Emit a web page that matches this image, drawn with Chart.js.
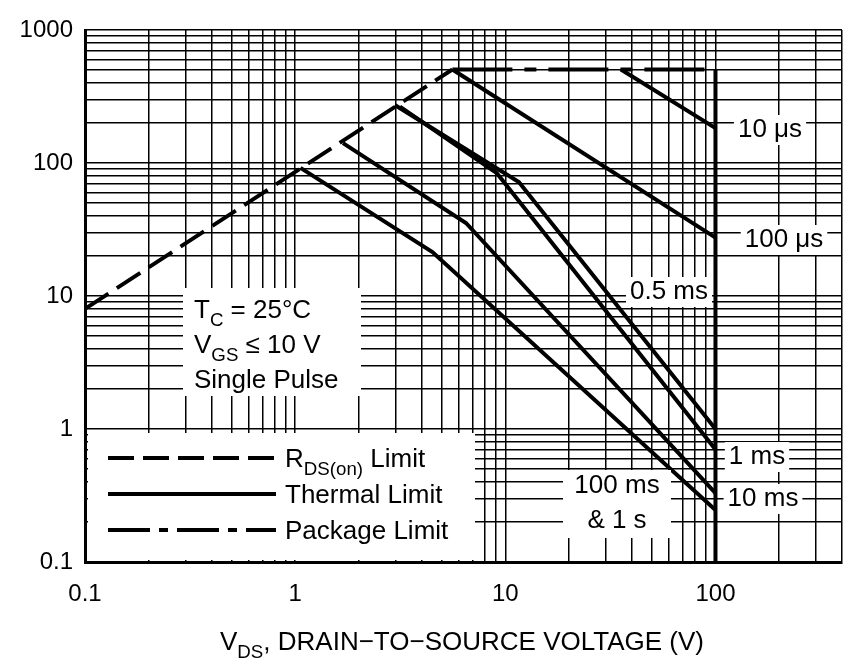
<!DOCTYPE html>
<html>
<head>
<meta charset="utf-8">
<script src="https://cdn.jsdelivr.net/npm/chart.js@4.4.0/dist/chart.umd.min.js"></script>
<style>
  body { margin: 0; background: #fff; }
  #wrap { width: 860px; height: 671px; }
</style>
</head>
<body>
<div id="wrap"><canvas id="soa"></canvas></div>
<script>
// Safe operating area data (VDS volts, ID amps)
const rdsOnLimit = [[0.1, 8], [5.6, 505]];
const packageLimit = [[5.6, 505], [100, 505]];
const drainLimit = [[100, 505], [100, 0.1]];
const curve10us = [[35.5, 505], [100, 183]];
const curve100us = [[5.6, 505], [100, 27.5]];
const curve05ms = [[2.98, 273], [11.6, 72], [100, 1.0]];
const curve1ms = [[3.15, 265], [9.1, 84], [100, 0.7]];
const curve10ms = [[1.69, 141], [6.5, 35.4], [100, 0.33]];
const curve100ms = [[1.06, 92], [4.5, 21.4], [100, 0.246]];

const xTicks = [0.1,0.2,0.3,0.4,0.5,0.6,0.7,0.8,0.9,1,2,3,4,5,6,7,8,9,10,20,30,40,50,60,70,80,90,100,200,300,400];
const yTicks = [0.1,0.2,0.3,0.4,0.5,0.6,0.7,0.8,0.9,1,2,3,4,5,6,7,8,9,10,20,30,40,50,60,70,80,90,100,200,300,400,500,600,700,800,900,1000];
const majorLabels = [0.1, 1, 10, 100, 1000];

const curveLabels = [
  { text: '10 \u03bcs', x: 770, y: 130 },
  { text: '100 \u03bcs', x: 784, y: 240 },
  { text: '0.5 ms', x: 669, y: 292 },
  { text: '1 ms', x: 757, y: 457 },
  { text: '10 ms', x: 763, y: 499 }
];

const FONT = '"Liberation Sans", Arial, sans-serif';
const TXT = 26;

function toXY(arr) { return arr.map(p => ({ x: p[0], y: p[1] })); }

function line(data, dash) {
  return {
    data: toXY(data),
    borderColor: '#000',
    borderWidth: 4,
    borderDash: dash || [],
    pointRadius: 0,
    fill: false,
    tension: 0
  };
}

// text with a subscript part: parts = [[text, isSub], ...]
function subText(ctx, parts, x, y, size, align) {
  let total = 0;
  parts.forEach(p => {
    ctx.font = (p[1] ? size * 0.72 : size) + 'px ' + FONT;
    total += ctx.measureText(p[0]).width;
  });
  let cx = align === 'center' ? x - total / 2 : x;
  ctx.textAlign = 'left';
  ctx.textBaseline = 'alphabetic';
  parts.forEach(p => {
    ctx.font = (p[1] ? size * 0.72 : size) + 'px ' + FONT;
    ctx.fillText(p[0], cx, y + (p[1] ? size * 0.3 : 0));
    cx += ctx.measureText(p[0]).width;
  });
}

function whiteBox(ctx, x, y, w, h) {
  ctx.fillStyle = '#fff';
  ctx.fillRect(x, y, w, h);
  ctx.fillStyle = '#000';
}

const annotations = {
  id: 'annotations',
  afterDraw(chart) {
    const ctx = chart.ctx;
    ctx.save();
    ctx.fillStyle = '#000';

    // curve labels
    ctx.font = TXT + 'px ' + FONT;
    curveLabels.forEach(l => {
      const w = ctx.measureText(l.text).width;
      whiteBox(ctx, l.x - w / 2 - 4, l.y - 15, w + 8, 30);
      ctx.font = TXT + 'px ' + FONT;
      ctx.textAlign = 'center';
      ctx.textBaseline = 'middle';
      ctx.fillText(l.text, l.x, l.y);
    });
    whiteBox(ctx, 563, 470, 108, 68);
    ctx.font = TXT + 'px ' + FONT;
    ctx.textAlign = 'center';
    ctx.textBaseline = 'middle';
    ctx.fillText('100 ms', 617, 486);
    ctx.fillText('& 1 s', 617, 521);

    // conditions box
    whiteBox(ctx, 183, 288, 178, 108);
    subText(ctx, [['T', false], ['C', true], [' = 25\u00b0C', false]], 194, 318, TXT);
    subText(ctx, [['V', false], ['GS', true], [' \u2264 10 V', false]], 194, 353, TXT);
    subText(ctx, [['Single Pulse', false]], 194, 388, TXT);

    // legend box
    whiteBox(ctx, 88, 433, 387, 127);
    const rows = [
      { y: 458, dash: [26, 9], parts: [['R', false], ['DS(on)', true], [' Limit', false]] },
      { y: 494, dash: [], parts: [['Thermal Limit', false]] },
      { y: 530, dash: [42, 9, 9, 9], parts: [['Package Limit', false]] }
    ];
    rows.forEach(r => {
      ctx.strokeStyle = '#000';
      ctx.lineWidth = 4;
      ctx.setLineDash(r.dash);
      ctx.beginPath();
      ctx.moveTo(108, r.y);
      ctx.lineTo(276, r.y);
      ctx.stroke();
      ctx.setLineDash([]);
      subText(ctx, r.parts, 285, r.y + 9, TXT);
    });

    // axis titles
    subText(ctx, [['V', false], ['DS', true], [', DRAIN\u2212TO\u2212SOURCE VOLTAGE (V)', false]], 462, 650, TXT, 'center');
    ctx.translate(-8, 296);
    ctx.rotate(-Math.PI / 2);
    subText(ctx, [['I', false], ['D', true], [', DRAIN CURRENT (AMPS)', false]], 0, 0, TXT, 'center');
    ctx.restore();
  }
};

new Chart(document.getElementById('soa'), {
  type: 'line',
  data: {
    datasets: [
      line(rdsOnLimit, [28, 10]),
      line(packageLimit, [60, 12, 12, 12]),
      line(drainLimit),
      line(curve10us),
      line(curve100us),
      line(curve05ms),
      line(curve1ms),
      line(curve10ms),
      line(curve100ms)
    ]
  },
  options: {
    responsive: true,
    maintainAspectRatio: false,
    animation: false,
    layout: { padding: { left: 10, right: 15, top: 30, bottom: 0 } },
    plugins: { legend: { display: false }, tooltip: { enabled: false } },
    scales: {
      x: {
        type: 'logarithmic',
        min: 0.1,
        max: 400,
        afterBuildTicks(scale) { scale.ticks = xTicks.map(v => ({ value: v })); },
        afterFit(scale) { scale.height = 109; },
        grid: { color: '#000', lineWidth: 1.5, drawTicks: false },
        border: { color: '#000', width: 3 },
        ticks: {
          autoSkip: false,
          maxRotation: 0,
          padding: 18,
          color: '#000',
          font: { size: 24, family: FONT },
          callback: v => majorLabels.includes(v) ? String(v) : ''
        }
      },
      y: {
        type: 'logarithmic',
        min: 0.1,
        max: 1000,
        afterBuildTicks(scale) { scale.ticks = yTicks.map(v => ({ value: v })); },
        afterFit(scale) { scale.width = 75; },
        grid: { color: '#000', lineWidth: 1.5, drawTicks: false },
        border: { color: '#000', width: 3 },
        ticks: {
          autoSkip: false,
          padding: 12,
          color: '#000',
          font: { size: 24, family: FONT },
          callback: v => majorLabels.includes(v) ? String(v) : ''
        }
      }
    }
  },
  plugins: [annotations]
});
</script>
</body>
</html>
